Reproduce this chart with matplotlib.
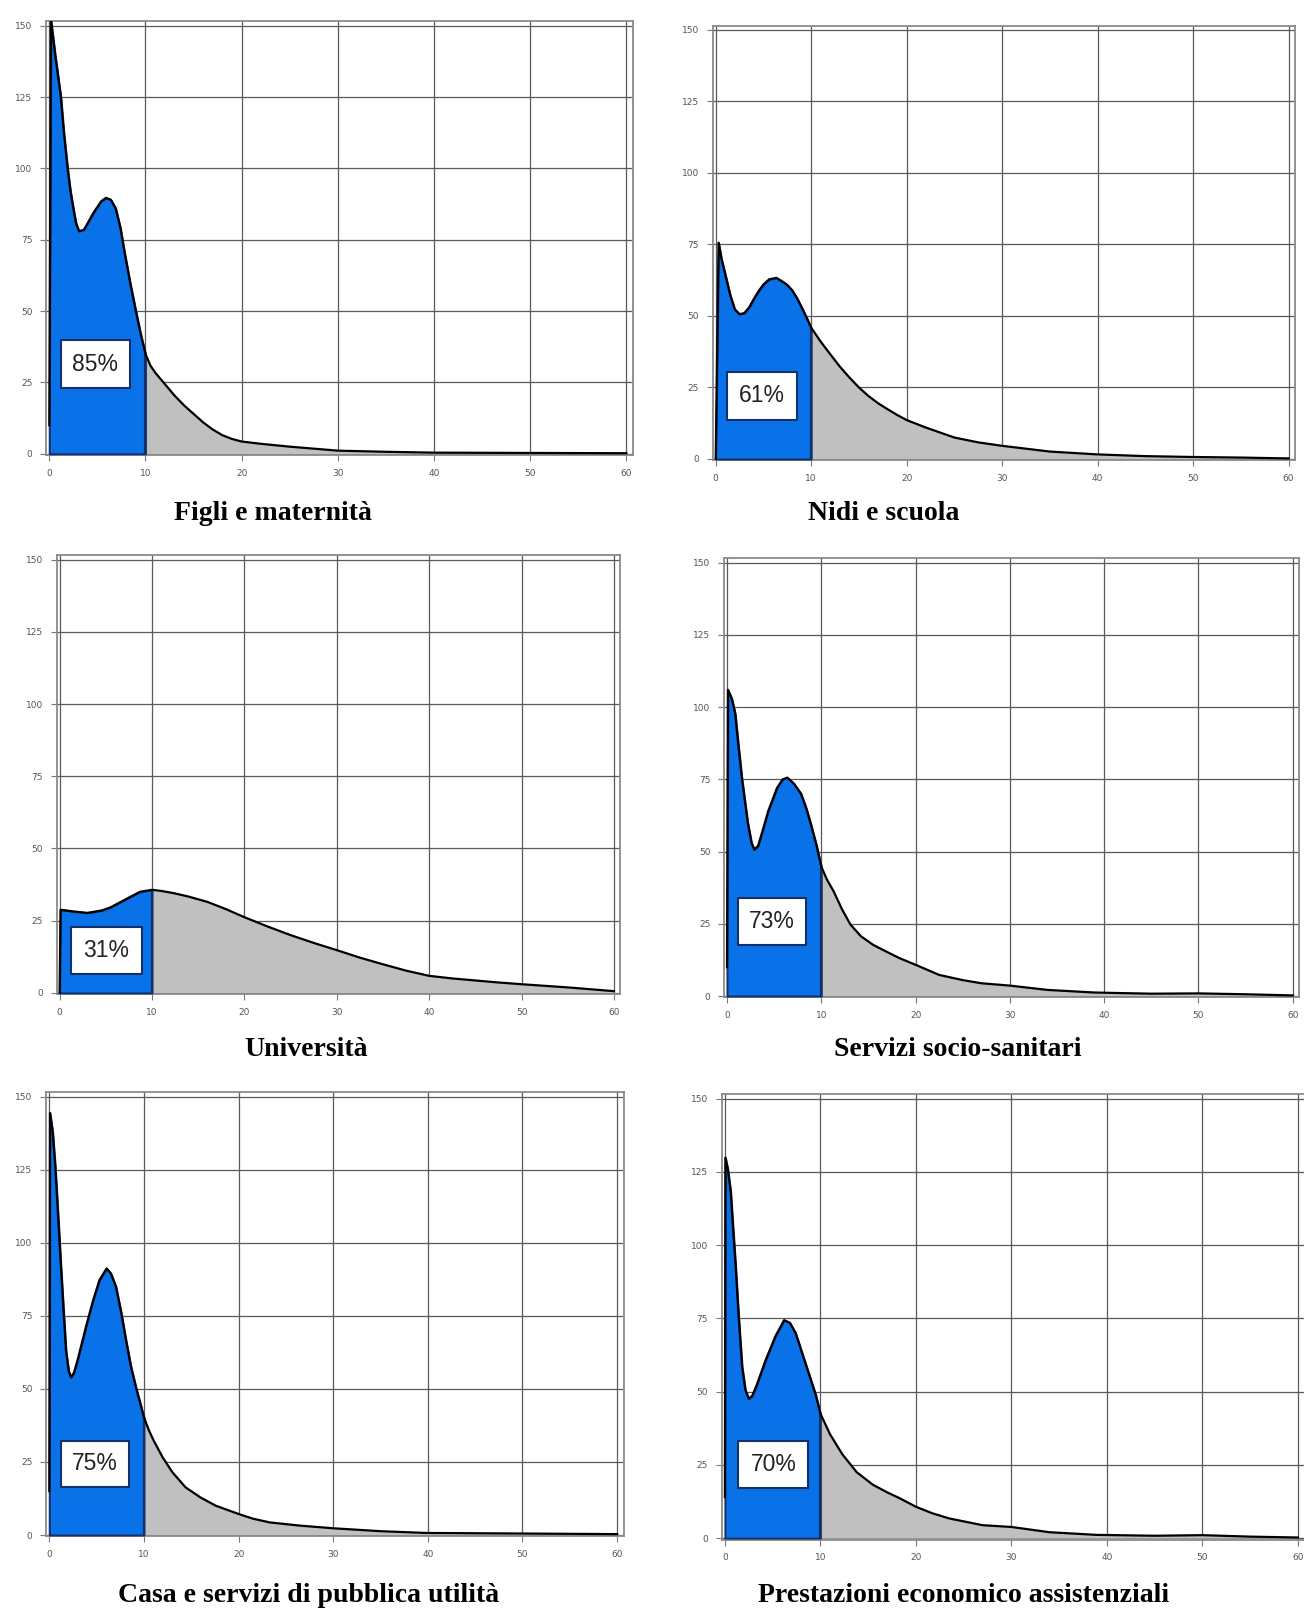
import matplotlib
matplotlib.use("Agg")
import matplotlib.pyplot as plt
from matplotlib.patches import Rectangle
import numpy as np

W, H = 1304, 1610

titles = ["Figli e maternità", "Nidi e scuola", "Università",
          "Servizi socio-sanitari", "Casa e servizi di pubblica utilità",
          "Prestazioni economico assistenziali"]
shares = ["85%", "61%", "31%", "73%", "75%", "70%"]

# curves (x = value, y = frequency)
figli_x = [0, 0.17, 0.6, 1.2, 1.5, 1.9, 2.2, 2.6, 2.8, 3.1, 3.6, 4.1, 4.6, 5.4, 5.9, 6.4,
           6.9, 7.4, 7.8, 8.4, 9.0, 9.5, 10, 10.5, 11, 12, 13, 14, 15, 16, 17, 18, 19,
           20, 22, 25, 30, 35, 40, 50, 60]
figli_y = [10, 152, 140, 125, 113, 100, 92, 84, 80.5, 78, 78.5, 81.5, 84.5, 88.5, 89.7, 89,
           86, 79, 71, 60, 50, 42, 35, 31, 28.5, 24.5, 20.5, 17, 14, 11, 8.5, 6.5, 5.2,
           4.3, 3.5, 2.5, 1.1, 0.7, 0.4, 0.3, 0.2]

nidi_x = [0, 0.3, 0.6, 1, 1.5, 2, 2.5, 3, 3.5, 4, 4.5, 5, 5.6, 6.35, 7, 7.5, 8, 8.5, 9,
          9.5, 10, 11, 12, 13, 14, 15, 16, 17, 18, 19, 20, 22, 25, 27.5, 30, 35, 40,
          45, 50, 55, 60]
nidi_y = [0, 75.6, 70, 64.5, 57.5, 52.3, 50.6, 51, 53, 56, 58.7, 61, 62.8, 63.3, 62, 60.8,
          59, 56.3, 53, 49.5, 45.9, 41, 36.6, 32.3, 28.5, 25, 22, 19.5, 17.4, 15.4, 13.6,
          11, 7.5, 5.8, 4.6, 2.6, 1.6, 1.0, 0.7, 0.5, 0.2]

univ_x = [0, 0.1, 1.5, 3, 4.5, 5.5, 6.5, 7.5, 8.7, 10, 11, 12.4, 14, 16, 18, 20, 22.5,
          25, 27.5, 30, 32.5, 35, 37.5, 40, 42.5, 45, 47.5, 50, 55, 60]
univ_y = [0, 28.8, 28.2, 27.7, 28.5, 29.6, 31.3, 33, 35, 35.7, 35.3, 34.5, 33.3, 31.5, 29,
          26.2, 23, 20, 17.3, 14.8, 12.2, 9.9, 7.7, 5.9, 5.0, 4.3, 3.6, 3.0, 1.9, 0.6]

socio_x = [0, 0.1, 0.5, 0.87, 1.2, 1.57, 2.2, 2.6, 2.9, 3.3, 3.8, 4.37, 5.3, 5.9, 6.4,
           7.1, 7.85, 8.4, 8.9, 9.5, 10, 10.6, 11.3, 12.2, 13.1, 14.2, 15.5, 17, 18.3,
           20, 22.5, 25, 27, 30, 34, 39, 45, 50, 55, 60]
socio_y = [10, 106, 103, 97.7, 87, 75.6, 60, 53, 50.7, 52, 57.5, 64, 72, 75, 75.6,
           73.5, 70, 65, 59.4, 52, 44.8, 40.3, 36.3, 30, 24.7, 20.7, 17.7, 15.2, 13.1,
           10.8, 7.3, 5.5, 4.4, 3.6, 2.1, 1.2, 0.8, 0.9, 0.6, 0.2]

casa_x = [0, 0.07, 0.35, 0.63, 0.95, 1.23, 1.5, 1.76, 2.05, 2.3, 2.6, 3.0, 3.87, 4.6, 5.3,
          6.05, 6.5, 7.04, 7.6, 8.1, 8.6, 9.15, 10, 10.5, 11, 11.97, 13, 14.4, 16, 17.6,
          20, 21.5, 23.3, 26.5, 30, 35, 39.8, 45, 50, 55, 60]
casa_y = [15, 144.4, 138, 126, 108, 91.8, 77, 63.2, 56, 54, 55.5, 60, 71.2, 80, 87.2,
          91.2, 89.5, 85, 76, 66.7, 58, 50.6, 40.3, 36, 32.5, 26.6, 21.5, 16.3, 12.8, 10,
          7.2, 5.6, 4.3, 3.2, 2.3, 1.3, 0.7, 0.6, 0.5, 0.4, 0.3]

prest_x = [0, 0.05, 0.3, 0.6, 0.85, 1.12, 1.45, 1.8, 2.15, 2.5, 2.85, 3.3, 4.27, 5.3, 6.2,
           6.8, 7.4, 8.1, 8.8, 9.5, 10, 11, 12.3, 13.8, 15.5, 17, 18.3, 20, 21.7, 23.5,
           27, 30, 34, 38.9, 45, 50, 55, 60]
prest_y = [14, 129.9, 126, 118.4, 106, 93, 75, 58.5, 50.5, 47.6, 48.5, 52, 60.8, 69, 74.4,
           73.5, 70, 63, 56, 49, 42.5, 35.5, 28.6, 22.5, 18.2, 15.6, 13.6, 10.7, 8.5, 6.7,
           4.4, 3.8, 2.0, 1.1, 0.8, 1.0, 0.5, 0.2]

curves = [(figli_x, figli_y), (nidi_x, nidi_y), (univ_x, univ_y),
          (socio_x, socio_y), (casa_x, casa_y), (prest_x, prest_y)]

x_ticks = [0, 10, 20, 30, 40, 50, 60]
y_ticks = [0, 25, 50, 75, 100, 125, 150]

# pixel position of x=0, x=60, y=0, y=150 for each panel
frames = [(49.3, 626.3, 453.8, 25.7), (715.7, 1288.6, 459.0, 29.8),
          (59.6, 614.0, 992.9, 559.6), (727.0, 1292.7, 996.0, 562.7),
          (49.3, 617.1, 1535.0, 1096.6), (724.9, 1297.9, 1538.1, 1098.7)]
# label box (x0, x1, y0, y1) in data units
boxes = [(1.2, 8.4, 23, 39.7), (1.15, 8.5, 13.6, 30.5), (1.24, 8.87, 6.5, 22.7),
         (1.15, 8.4, 17.5, 33.9), (1.23, 8.45, 16.3, 32.3), (1.4, 8.75, 17, 33.2)]
title_pos = [(273, 514), (884, 514), (306, 1050), (958, 1050), (309, 1595), (964, 1595)]

blue = "#0a72e8"
navy = "#13306a"
grey = "#c0c0c0"
xlim = (-0.3, 60.7)
ylim = (-0.5, 151.5)

fig = plt.figure(figsize=(W / 100, H / 100), dpi=100)

for i in range(6):
    x0, x60, y0, y150 = frames[i]
    sx = (x60 - x0) / 60
    sy = (y0 - y150) / 150
    left = x0 + xlim[0] * sx
    right = x0 + xlim[1] * sx
    top = y0 - ylim[1] * sy
    bottom = y0 - ylim[0] * sy
    ax = fig.add_axes([left / W, 1 - bottom / H, (right - left) / W, (bottom - top) / H])

    xs = np.array(curves[i][0], dtype=float)
    ys = np.array(curves[i][1], dtype=float)
    inner = xs <= 10
    outer = xs >= 10
    ax.fill_between(xs[outer], 0, ys[outer], color=grey, lw=0, zorder=2)
    ax.fill_between(xs[inner], 0, ys[inner], facecolor=blue, edgecolor=navy, lw=1.4, zorder=3)
    ax.vlines(10, 0, ys[xs == 10][0], color=navy, lw=1.6, zorder=4)
    ax.plot(xs, ys, color="black", lw=1.6, zorder=5, solid_joinstyle="round")

    bx0, bx1, by0, by1 = boxes[i]
    ax.add_patch(Rectangle((bx0, by0), bx1 - bx0, by1 - by0, facecolor="white",
                           edgecolor=navy, lw=1.5, zorder=6))
    ax.text((bx0 + bx1) / 2, (by0 + by1) / 2, shares[i], ha="center", va="center",
            fontsize=16.5, family="Liberation Sans", color="#222222", zorder=7)

    ax.set_xlim(*xlim)
    ax.set_ylim(*ylim)
    ax.set_xticks(x_ticks)
    ax.set_yticks(y_ticks)
    ax.grid(True, color="#5a5a5a", lw=0.9)
    ax.set_axisbelow(True)
    for s in ax.spines.values():
        s.set_color("#8a8a8a")
        s.set_linewidth(1.3)
    ax.tick_params(direction="out", length=4, width=0.8, color="#777777",
                   labelsize=6.5, labelcolor="#555555", pad=6)

    tx, ty = title_pos[i]
    fig.text(tx / W, 1 - ty / H, titles[i], ha="center", va="center",
             fontsize=20, fontweight="bold", family="Liberation Serif")

fig.savefig("out.png", dpi=100, facecolor="white")
